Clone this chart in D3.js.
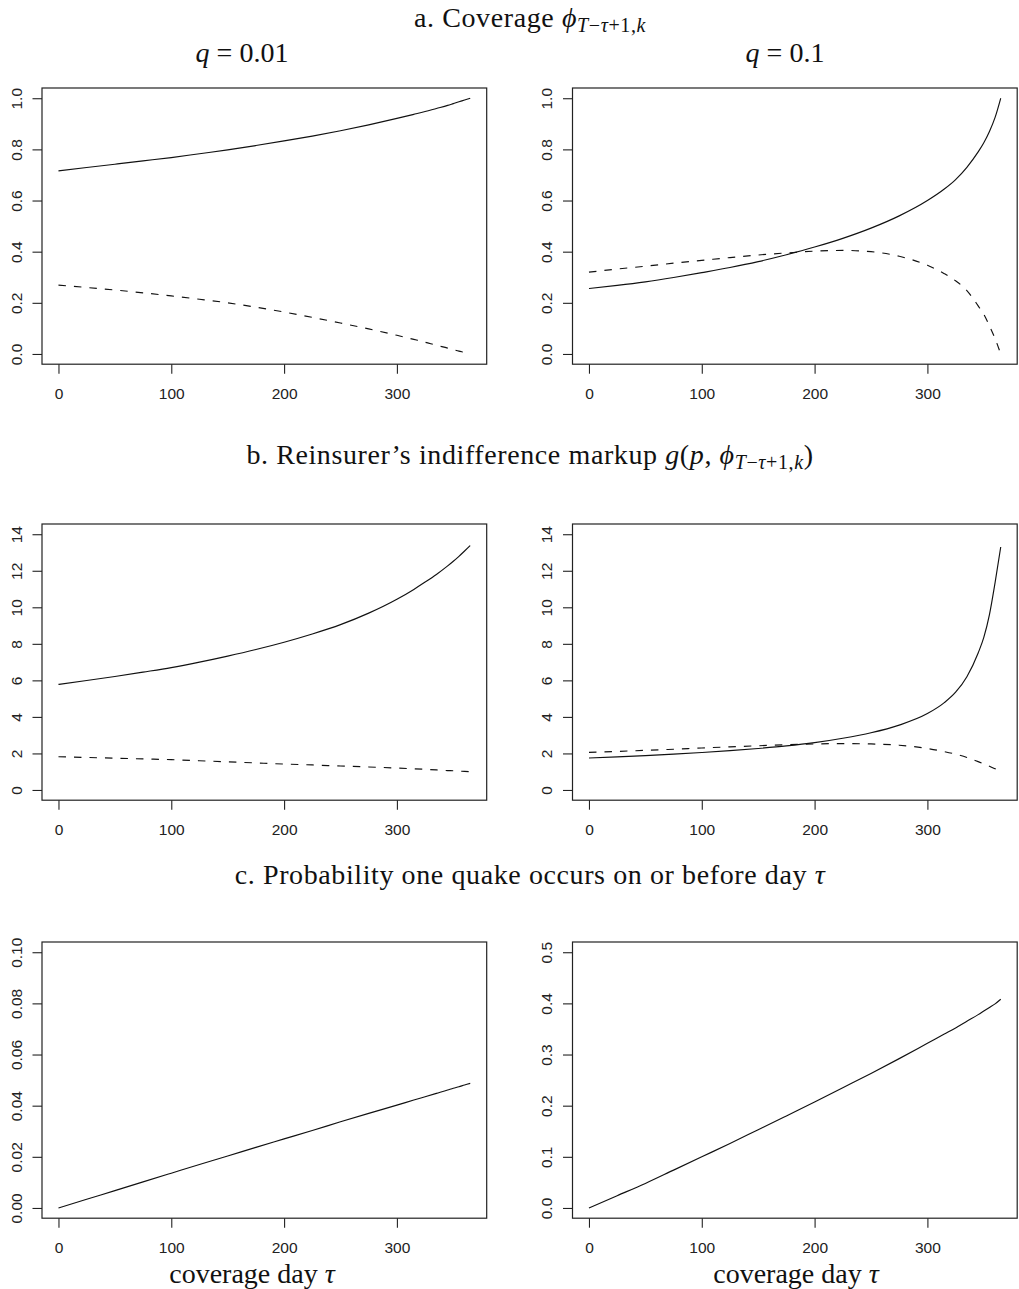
<!DOCTYPE html>
<html>
<head>
<meta charset="utf-8">
<script src="https://cdn.jsdelivr.net/npm/d3@7"></script>
<style>
  body { margin: 0; background: #fff; }
  .tick text { font-family: "Liberation Sans", Arial, sans-serif; font-size: 15.5px; fill: #222; }
  .tick line { stroke: #222; stroke-width: 1.1; }
  .serif { font-family: "Liberation Serif", "Times New Roman", serif; fill: #111; }
</style>
</head>
<body>
<script>
var days = [0, 25, 50, 75, 100, 125, 150, 175, 200, 225, 250, 275, 300, 315, 325, 335, 345, 350, 355, 360, 365];

var coverageSolidQ001 = [0.716, 0.729, 0.742, 0.755, 0.768, 0.783, 0.798, 0.815, 0.833, 0.852, 0.873, 0.896, 0.921, 0.937, 0.948, 0.960, 0.972, 0.979, 0.986, 0.993, 1.000];
var coverageDashedQ001 = [0.269, 0.260, 0.250, 0.239, 0.227, 0.214, 0.200, 0.183, 0.164, 0.143, 0.121, 0.098, 0.073, 0.057, 0.046, 0.034, 0.023, 0.017, 0.011, 0.006, 0.000];
var coverageSolidQ01 = [0.256, 0.268, 0.282, 0.299, 0.318, 0.338, 0.361, 0.388, 0.418, 0.452, 0.492, 0.540, 0.600, 0.645, 0.682, 0.730, 0.790, 0.826, 0.870, 0.925, 1.000];
var coverageDashedQ01 = [0.320, 0.332, 0.343, 0.355, 0.366, 0.377, 0.387, 0.395, 0.402, 0.405, 0.400, 0.382, 0.347, 0.314, 0.286, 0.248, 0.188, 0.155, 0.110, 0.060, 0.000];

var markupSolidQ001 = [5.78, 5.99, 6.21, 6.45, 6.70, 7.00, 7.33, 7.69, 8.09, 8.54, 9.05, 9.68, 10.44, 10.98, 11.38, 11.80, 12.27, 12.52, 12.79, 13.08, 13.38];
var markupDashedQ001 = [1.82, 1.78, 1.74, 1.70, 1.66, 1.60, 1.54, 1.48, 1.42, 1.37, 1.31, 1.26, 1.20, 1.16, 1.13, 1.10, 1.06, 1.05, 1.03, 1.02, 1.00];
var markupSolidQ01 = [1.75, 1.81, 1.88, 1.96, 2.05, 2.15, 2.27, 2.41, 2.59, 2.83, 3.13, 3.55, 4.18, 4.78, 5.35, 6.20, 7.50, 8.35, 9.60, 11.35, 13.30];
var markupDashedQ01 = [2.06, 2.11, 2.17, 2.23, 2.30, 2.36, 2.42, 2.48, 2.52, 2.54, 2.52, 2.45, 2.27, 2.10, 1.96, 1.78, 1.55, 1.43, 1.30, 1.16, 1.02];

var quakeProbQ001 = [0, 0.0034, 0.0068, 0.0102, 0.0136, 0.0170, 0.0203, 0.0237, 0.0270, 0.0303, 0.0337, 0.0370, 0.0402, 0.0422, 0.0435, 0.0448, 0.0461, 0.0468, 0.0474, 0.0481, 0.0487];
var quakeProbQ01 = [0, 0.024, 0.048, 0.074, 0.100, 0.126, 0.153, 0.180, 0.207, 0.235, 0.263, 0.292, 0.322, 0.340, 0.352, 0.365, 0.378, 0.385, 0.392, 0.399, 0.408];

var xTicks = [0, 100, 200, 300];
var coverageTicks = [0, 0.2, 0.4, 0.6, 0.8, 1.0];
var markupTicks = [0, 2, 4, 6, 8, 10, 12, 14];
var quakeTicksQ001 = [0, 0.02, 0.04, 0.06, 0.08, 0.10];
var quakeTicksQ01 = [0, 0.1, 0.2, 0.3, 0.4, 0.5];

var colX = [42, 572.5], rowY = [88, 524, 942], boxW = 444.7, boxH = 276.2;

var panels = [
  {col: 0, row: 0, ylim: [0, 1], ticks: coverageTicks, fmt: ".1f", solid: coverageSolidQ001, dashed: coverageDashedQ001},
  {col: 1, row: 0, ylim: [0, 1], ticks: coverageTicks, fmt: ".1f", solid: coverageSolidQ01, dashed: coverageDashedQ01},
  {col: 0, row: 1, ylim: [0, 14], ticks: markupTicks, fmt: "d", solid: markupSolidQ001, dashed: markupDashedQ001},
  {col: 1, row: 1, ylim: [0, 14], ticks: markupTicks, fmt: "d", solid: markupSolidQ01, dashed: markupDashedQ01},
  {col: 0, row: 2, ylim: [0, 0.1], ticks: quakeTicksQ001, fmt: ".2f", solid: quakeProbQ001},
  {col: 1, row: 2, ylim: [0, 0.5], ticks: quakeTicksQ01, fmt: ".1f", solid: quakeProbQ01}
];

var svg = d3.select("body").append("svg")
    .attr("width", 1019)
    .attr("height", 1289);

svg.append("rect").attr("width", 1019).attr("height", 1289).attr("fill", "#fff");

panels.forEach(function(p) {
  var x0 = colX[p.col], y0 = rowY[p.row];
  var xs = d3.scaleLinear().domain([-14.6, 379.6]).range([x0, x0 + boxW]);
  var pad = (p.ylim[1] - p.ylim[0]) * 0.04;
  var ys = d3.scaleLinear().domain([p.ylim[0] - pad, p.ylim[1] + pad]).range([y0 + boxH, y0]);

  var gx = svg.append("g")
      .attr("transform", "translate(0," + (y0 + boxH) + ")")
      .call(d3.axisBottom(xs).tickValues(xTicks).tickSize(9.5).tickFormat(d3.format("d")));
  gx.select(".domain").remove();
  gx.selectAll(".tick text").attr("y", 34.8).attr("dy", 0);

  var gy = svg.append("g")
      .attr("transform", "translate(" + x0 + ",0)")
      .call(d3.axisLeft(ys).tickValues(p.ticks).tickSize(9.5).tickFormat(d3.format(p.fmt)));
  gy.select(".domain").remove();
  gy.selectAll(".tick text")
      .attr("transform", "rotate(-90)")
      .attr("x", 0).attr("y", -20.5).attr("dy", 0)
      .attr("text-anchor", "middle");

  svg.append("rect")
      .attr("x", x0).attr("y", y0)
      .attr("width", boxW).attr("height", boxH)
      .attr("fill", "none").attr("stroke", "#222").attr("stroke-width", 1.2);

  var line = d3.line()
      .x(function(d, i) { return xs(days[i]); })
      .y(function(d) { return ys(d); })
      .curve(d3.curveMonotoneX);

  svg.append("path").datum(p.solid)
      .attr("d", line).attr("fill", "none")
      .attr("stroke", "#111").attr("stroke-width", 1.15);

  if (p.dashed) {
    svg.append("path").datum(p.dashed)
        .attr("d", line).attr("fill", "none")
        .attr("stroke", "#111").attr("stroke-width", 1.15)
        .attr("stroke-dasharray", "7.5,8");
  }
});

function sub(t) {
  t.append("tspan").attr("font-style", "italic").text("\u03d5");
  var s = t.append("tspan").attr("font-size", 20).attr("dy", 5);
  s.append("tspan").attr("font-style", "italic").text("T");
  s.append("tspan").text("\u2212");
  s.append("tspan").attr("font-style", "italic").text("\u03c4");
  s.append("tspan").text("+1,");
  s.append("tspan").attr("font-style", "italic").text("k");
}

var titleA = svg.append("text").attr("class", "serif")
    .attr("x", 530).attr("y", 27).attr("text-anchor", "middle")
    .attr("font-size", 28).attr("letter-spacing", 0.6);
titleA.append("tspan").text("a.  Coverage ");
sub(titleA);

var titleB = svg.append("text").attr("class", "serif")
    .attr("x", 530).attr("y", 464).attr("text-anchor", "middle")
    .attr("font-size", 28).attr("letter-spacing", 0.6);
titleB.append("tspan").text("b.  Reinsurer\u2019s indifference markup ");
titleB.append("tspan").attr("font-style", "italic").text("g");
titleB.append("tspan").text("(");
titleB.append("tspan").attr("font-style", "italic").text("p");
titleB.append("tspan").text(", ");
sub(titleB);
titleB.append("tspan").attr("dy", -5).text(")");

var titleC = svg.append("text").attr("class", "serif")
    .attr("x", 530).attr("y", 884).attr("text-anchor", "middle")
    .attr("font-size", 28).attr("letter-spacing", 0.6);
titleC.append("tspan").text("c.  Probability one quake occurs on or before day ");
titleC.append("tspan").attr("font-style", "italic").text("\u03c4");

[["0.01", 242], ["0.1", 785]].forEach(function(d) {
  var t = svg.append("text").attr("class", "serif")
      .attr("x", d[1]).attr("y", 62).attr("text-anchor", "middle")
      .attr("font-size", 28);
  t.append("tspan").attr("font-style", "italic").text("q");
  t.append("tspan").text(" = " + d[0]);
});

[252, 796].forEach(function(cx) {
  var t = svg.append("text").attr("class", "serif")
      .attr("x", cx).attr("y", 1283).attr("text-anchor", "middle")
      .attr("font-size", 28);
  t.append("tspan").text("coverage day ");
  t.append("tspan").attr("font-style", "italic").text("\u03c4");
});
</script>
</body>
</html>
